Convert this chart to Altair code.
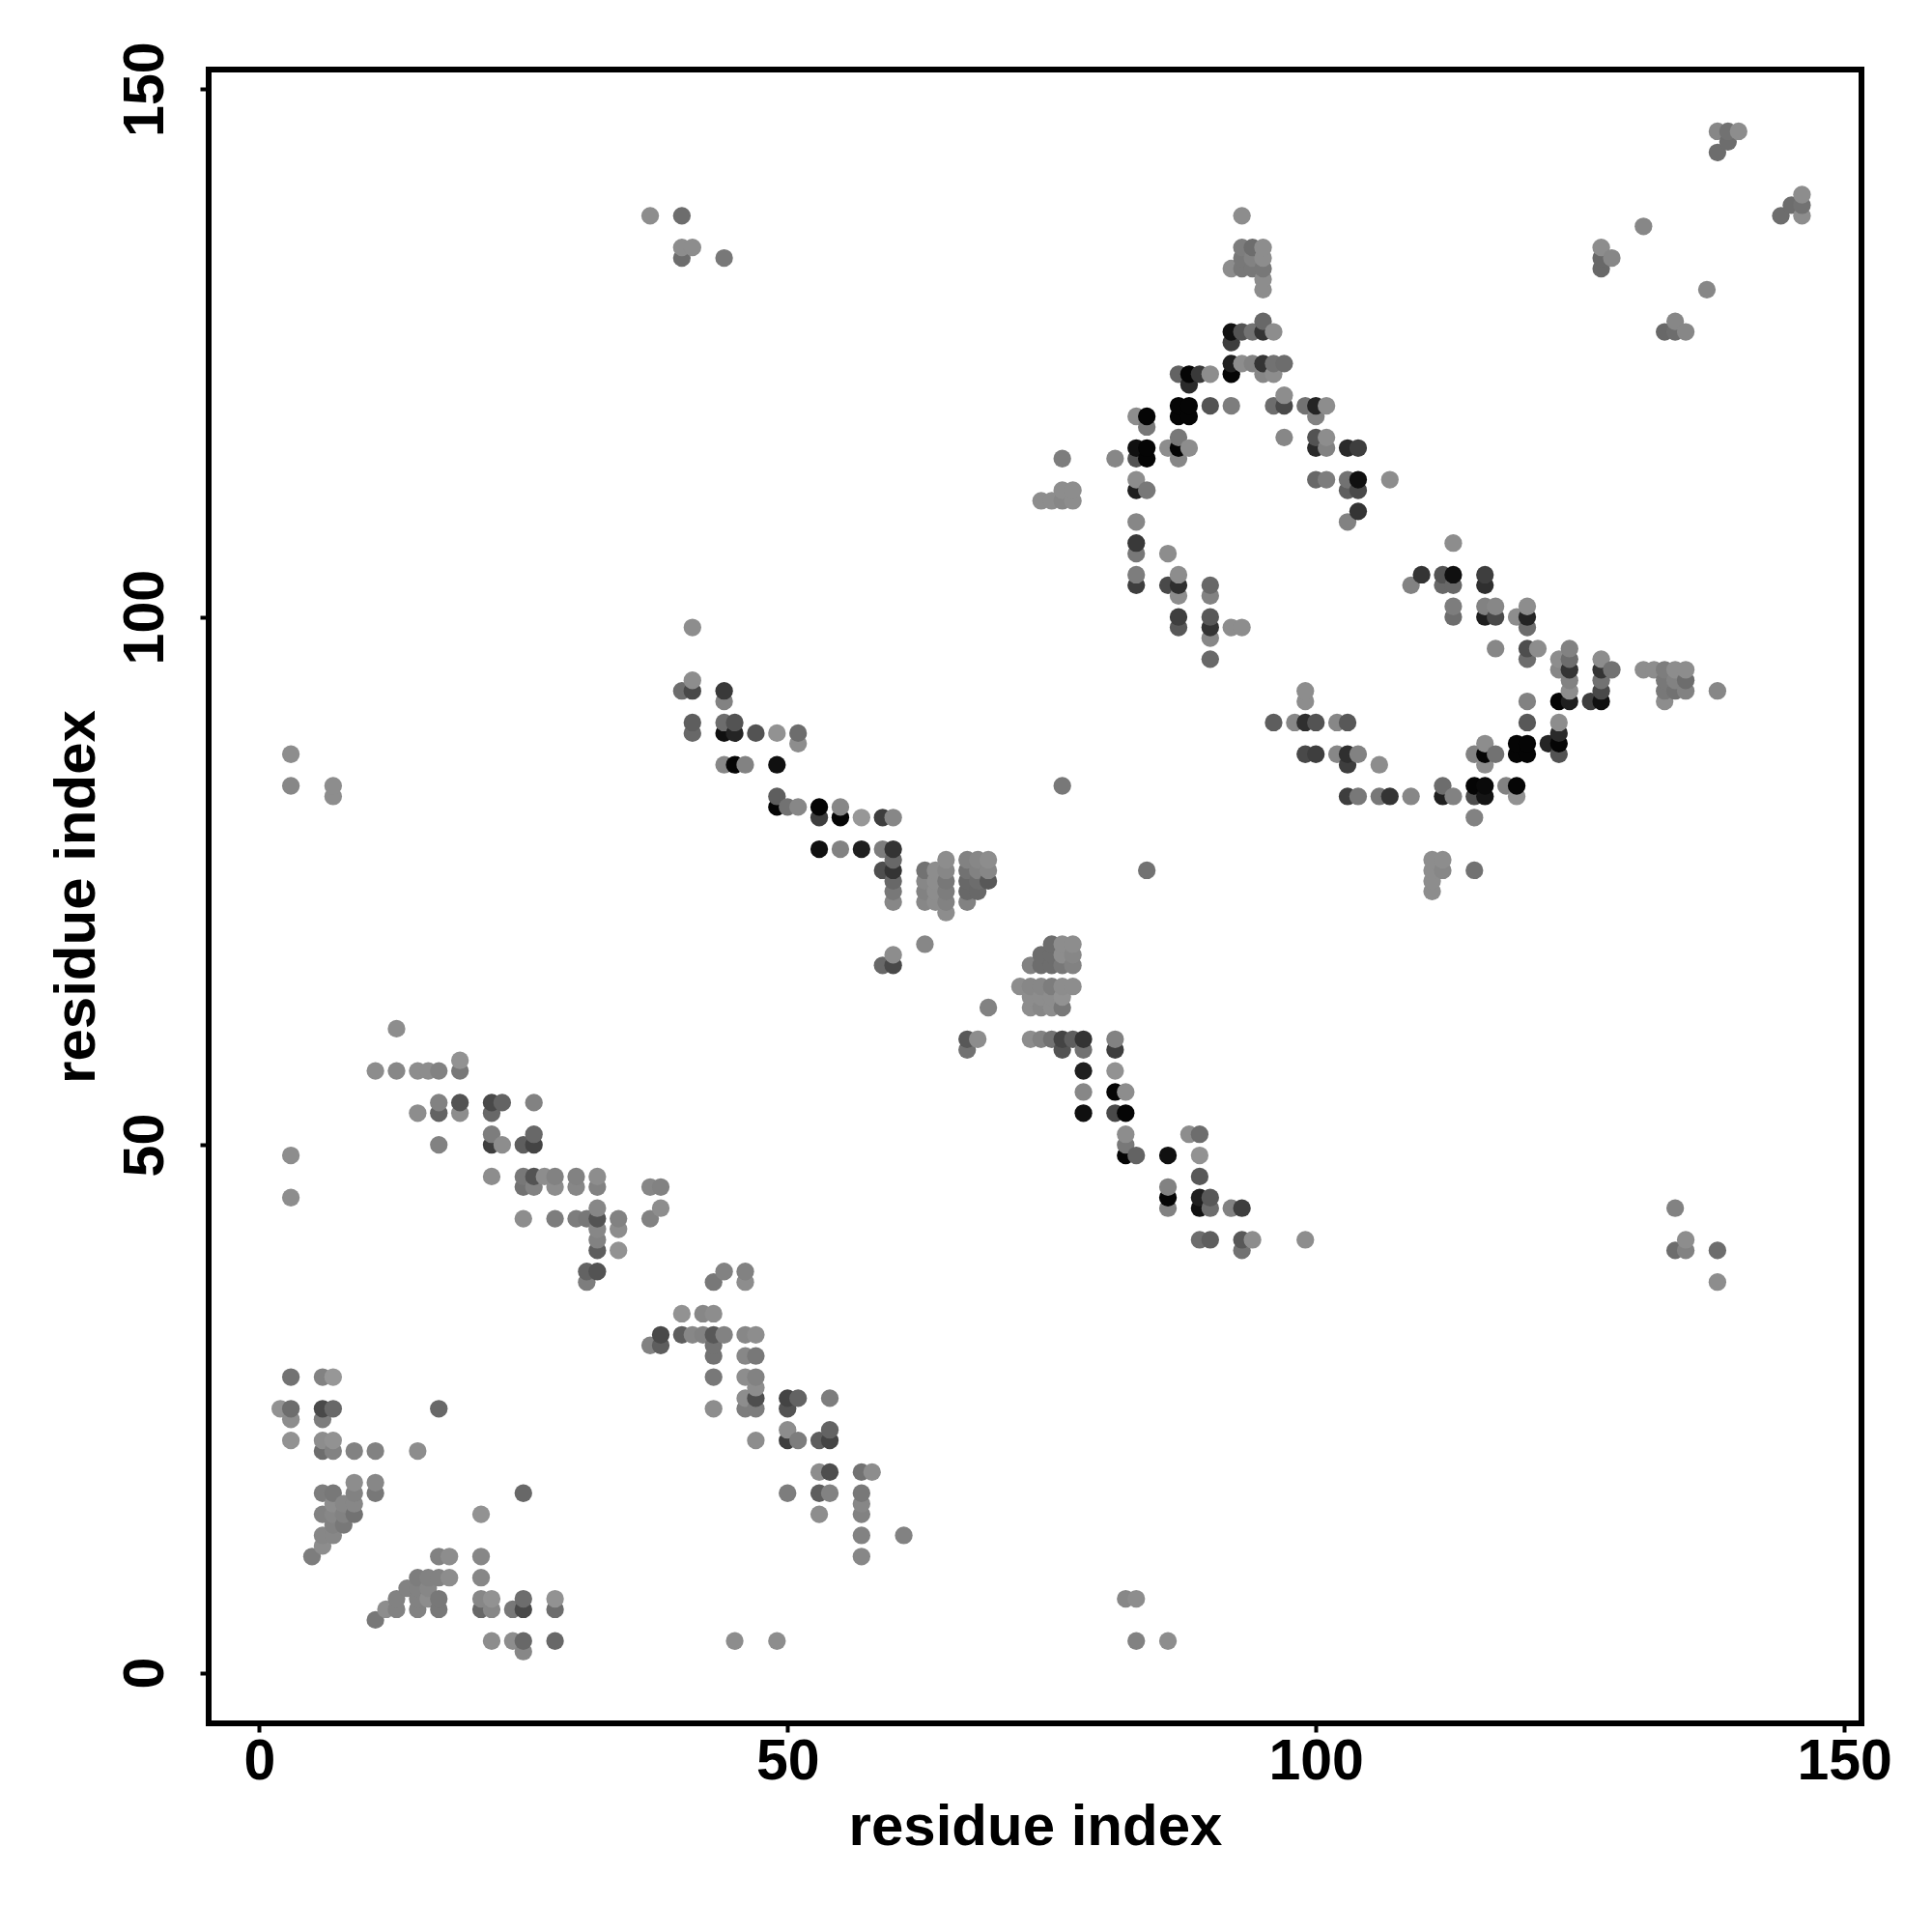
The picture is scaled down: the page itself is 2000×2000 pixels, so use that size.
import altair as alt
import pandas as pd

# (residue i, residue j, grey shade), region by region
low_left = [(3,28,110),(6,28,125),(7,28,145),(2,25,140),(3,25,105),(6,25,70),(7,25,100),(17,25,100),
 (3,24,135),(6,24,120),(3,22,140),(6,22,135),(7,22,140),(6,21,105),(7,21,125),(9,21,125),(11,21,125),(15,21,135),
 (9,18,135),(11,18,130),(6,17,120),(7,17,115),(9,17,125),(11,17,115),(25,17,100),(7,16,135),(8,16,130),(9,16,130),
 (6,15,125),(7,15,130),(8,15,125),(9,15,110),(21,15,140),(7,14,125),(8,14,115),(6,13,130),(7,13,130),(6,12,135),(5,11,120),
 (17,11,125),(18,11,135),(21,11,130),(15,9,120),(16,9,125),(17,9,125),(18,9,135),(21,9,130),(14,8,125),(15,8,125),(16,8,130),
 (13,7,125),(15,7,125),(16,7,135),(17,7,115),(21,7,130),(22,7,140),(25,7,105),(28,7,140),
 (12,6,135),(13,6,125),(15,6,125),(17,6,115),(21,6,100),(22,6,130),(24,6,115),(25,6,70),(28,6,105),(11,5,115),
 (22,3,135),(24,3,135),(25,3,100),(28,3,100),(25,2,130),(45,3,135),(49,3,135),(83,3,125),(86,3,135),(82,7,130),(83,7,135)]

upper_band = [(13,61,135),(11,57,135),(13,57,130),(15,57,135),(16,57,135),(17,57,125),(19,57,115),(19,58,140),
 (17,54,125),(19,54,80),(22,54,70),(23,54,95),(26,54,125),(15,53,135),(17,53,95),(19,53,135),(22,53,100),
 (22,51,120),(26,51,100),(17,50,125),(22,50,60),(23,50,135),(25,50,90),(26,50,65),
 (22,47,135),(25,47,115),(26,47,80),(27,47,135),(28,47,125),(30,47,125),(32,47,135),
 (25,46,110),(26,46,125),(28,46,135),(30,46,130),(32,46,125),(37,46,130),(38,46,125),
 (25,43,135),(28,43,120),(30,43,120),(31,43,115),(32,43,80),(34,43,125),(37,43,125),(38,44,135),(32,44,130),
 (32,42,130),(34,42,135),(32,41,125),(32,40,90),(34,40,140),(31,38,95),(32,38,80),(31,37,120),
 (3,87,135),(3,84,130),(7,84,135),(7,83,135),(3,49,135),(3,45,135)]

lower_band = [(44,38,125),(43,37,115),(46,38,125),(46,37,135),(40,34,140),(42,34,130),(43,34,135),
 (38,32,70),(40,32,90),(41,32,130),(42,32,125),(43,32,85),(44,32,125),(46,32,130),(47,32,135),
 (37,31,125),(38,31,90),(43,31,110),(43,30,110),(46,30,130),(47,30,115),(43,28,115),(46,28,135),(47,28,125),
 (47,27,135),(46,26,135),(47,26,75),(43,25,135),(46,25,120),(47,25,120),(47,22,135),
 (50,26,65),(51,26,95),(50,25,80),(54,26,120),(50,23,135),(50,22,60),(51,22,120),(53,22,90),(54,23,95),(54,22,65),
 (53,19,135),(54,19,75),(57,19,110),(58,19,135),(50,17,120),(53,17,90),(54,17,125),(57,17,115),(57,16,130),(57,15,125),(53,15,135),
 (57,13,125),(61,13,125),(57,11,130)]

mid_band = [(41,99,135),(41,94,135),(40,93,105),(41,93,70),(44,93,55),(44,92,125),(41,90,90),(41,89,100),(44,90,105),(45,90,80),
 (44,89,15),(45,89,35),(47,89,80),(49,89,140),(51,89,105),(51,88,135),(44,86,130),(45,86,5),(46,86,125),(49,86,15),
 (49,83,90),(49,82,5),(50,82,110),(51,82,130),(53,82,5),(53,81,60),(55,82,130),(55,81,5),(57,81,145),(59,81,60),(60,81,130),
 (53,78,15),(55,78,125),(57,78,30),(59,78,120),(60,78,50),(60,77,100),(59,76,75),(60,76,50),(60,75,100),(60,74,115),(60,73,130),
 (63,76,110),(63,75,130),(63,74,125),(63,73,130),(64,76,135),(64,75,135),(64,74,135),(64,73,135),
 (65,77,135),(65,76,130),(65,75,115),(65,74,120),(65,73,125),(65,72,135),
 (67,77,125),(67,76,110),(67,75,100),(67,74,100),(67,73,125),(68,77,130),(68,76,125),(68,75,105),(68,74,100),
 (69,77,135),(69,76,130),(69,75,85),(63,69,130),(60,68,135),(59,67,100),(60,67,70),(69,63,125),(76,84,115),(84,76,110)]

descent = [(75,69,105),(76,69,135),(77,69,135),(74,68,105),(75,68,105),(76,68,135),(77,68,130),
 (73,67,125),(74,67,105),(75,67,105),(76,67,115),(77,67,125),(72,65,135),(73,65,130),(74,65,130),(75,65,120),(76,65,135),(77,65,135),
 (73,64,135),(74,64,135),(75,64,135),(76,64,140),(73,63,135),(74,63,130),(75,63,135),(76,63,115),
 (67,60,85),(68,60,135),(73,60,135),(74,60,125),(75,60,110),(76,60,65),(77,60,90),(78,60,50),(81,60,125),
 (67,59,110),(76,59,80),(78,59,110),(81,59,60),(78,57,30),(81,57,140),(78,55,130),(81,55,5),(82,55,135),
 (78,53,15),(81,53,70),(82,53,5),(82,51,135),(88,51,135),(89,51,105),(82,50,115),(82,49,5),(83,49,95),(86,49,15),(89,49,140),
 (89,47,85),(86,46,125),(86,45,5),(89,45,30),(90,45,85),(86,44,125),(89,44,15),(90,44,105),(92,44,125),(93,44,60),
 (89,41,105),(90,41,90),(93,41,85),(94,41,135),(93,40,110),(99,41,135),
 (134,44,125),(134,40,105),(135,40,125),(135,41,135),(138,40,105),(138,37,135)]

ring_left = [(97,117,130),(100,117,80),(101,117,135),(87,117,115),(84,118,115),
 (83,116,15),(84,116,5),(86,116,135),(87,116,5),(88,116,135),(100,116,40),(101,116,125),(103,116,40),(104,116,60),
 (76,115,120),(81,115,130),(83,115,80),(84,115,5),(87,115,130),(83,113,135),(100,113,100),(101,113,120),(103,113,110),(104,113,15),(107,113,135),
 (76,112,135),(77,112,135),(83,112,30),(84,112,115),(103,112,90),(104,112,70),(74,111,135),(75,111,135),(76,111,130),(77,111,135),
 (104,110,50),(83,109,130),(103,109,125),(83,107,55),(83,106,115),(86,106,135),(83,104,120),(87,104,135),
 (83,103,60),(86,103,70),(87,103,45),(90,103,100),(87,102,135),(90,102,125),(87,100,60),(90,100,85),
 (87,99,85),(90,99,50),(92,99,135),(93,99,135),(90,98,130),(90,96,100)]

ring_top = [(93,138,135),(93,135,120),(94,135,105),(95,135,135),(93,134,115),(94,134,125),(95,134,135),
 (92,133,135),(93,133,115),(94,133,115),(95,133,115),(95,132,135),(95,131,135),(95,128,100),
 (92,127,15),(93,127,80),(94,127,110),(95,127,50),(96,127,135),(92,126,60),
 (92,124,30),(93,124,135),(94,124,125),(95,124,50),(96,124,110),(97,124,105),(92,123,5),(95,123,130),(96,123,135),
 (87,123,95),(88,123,5),(89,123,55),(90,123,135),(88,122,40),(97,121,135),
 (87,120,5),(88,120,5),(90,120,80),(92,120,120),(96,120,105),(97,120,70),(99,120,110),(100,120,35),(101,120,135),
 (87,119,5),(88,119,5),(83,119,135),(84,119,5),(100,119,125)]

ring_bottom = [(99,93,135),(99,92,135),(96,90,90),(98,90,130),(99,90,45),(100,90,80),(102,90,130),(103,90,85),
 (99,87,70),(100,87,60),(102,87,130),(103,87,45),(104,87,125),(103,86,60),(106,86,135),
 (103,83,60),(104,83,115),(106,83,115),(107,83,50),(109,83,130),(112,84,105),(112,83,30),(113,83,125),
 (115,84,5),(116,84,10),(115,83,75),(116,83,20),(118,84,125),(119,84,5),(119,83,140),(115,81,125),
 (116,88,135),(115,87,125),(116,87,5),(117,87,110),(116,86,135),(119,88,5),(120,88,5),(119,87,5),(120,87,5),
 (122,88,35),(123,88,5),(123,89,40),(123,90,135),(123,87,80),(120,90,85),(120,92,125),
 (111,77,135),(112,77,135),(111,76,135),(112,76,130),(111,75,135),(111,74,135),(115,76,110)]

ring_right = [(113,107,135),(110,104,50),(112,104,80),(113,104,15),(116,104,60),(109,103,125),(112,103,100),(113,103,100),(116,103,45),
 (113,101,120),(116,101,125),(117,101,130),(120,101,135),(113,100,105),(116,100,30),(117,100,70),(119,100,135),(120,100,35),(120,99,105),
 (117,97,130),(120,97,75),(121,97,135),(124,97,125),(120,96,105),(123,96,135),(124,96,105),(127,96,135),
 (123,95,130),(124,95,50),(127,95,50),(128,95,110),(131,95,135),(132,95,135),(133,95,120),(134,95,135),(135,95,135),
 (124,94,125),(127,94,110),(133,94,115),(134,94,125),(135,94,105),(124,93,135),(127,93,70),(133,93,115),(134,93,110),(135,93,125),(138,93,130),
 (123,92,5),(124,92,30),(126,92,60),(127,92,15),(133,92,135)]

corners = [(138,146,130),(139,146,110),(140,146,135),(139,145,105),(138,144,105),(146,140,135),(145,139,105),(146,139,110),(144,138,105),(146,138,135),
 (131,137,130),(127,135,135),(127,134,100),(128,134,130),(127,133,100),(137,131,130),(134,128,130),(133,127,100),(134,127,105),(135,127,130),
 (37,138,135),(40,138,105),(40,135,135),(40,134,105),(41,135,135),(44,134,115)]

tick_values = [0, 50, 100, 150]
axis_title = "residue index"

rows = low_left + upper_band + lower_band + mid_band + descent + ring_left + ring_top + ring_bottom + ring_right + corners
df = pd.DataFrame(rows, columns=["i", "j", "shade"]).drop_duplicates(["i", "j"], keep="last").sort_values(["i", "j"])

FONT = "Liberation Sans"

x_axis = alt.Axis(values=tick_values, title=axis_title, grid=False, domain=False, format="d",
                  labelFont=FONT, labelFontWeight="bold", labelFontSize=59, labelColor="black", labelPadding=1,
                  labelFlush=False, labelOverlap=False,
                  tickColor="black", tickSize=9, tickWidth=4,
                  titleFont=FONT, titleFontWeight="bold", titleFontSize=60, titleColor="black", titlePadding=9)
y_axis = alt.Axis(values=tick_values, title=axis_title, grid=False, domain=False, format="d",
                  labelFont=FONT, labelFontWeight="bold", labelFontSize=59, labelColor="black", labelPadding=27,
                  labelAngle=270, labelFlush=False, labelOverlap=False,
                  tickColor="black", tickSize=9, tickWidth=4,
                  titleFont=FONT, titleFontWeight="bold", titleFontSize=60, titleColor="black", titlePadding=11)

chart = (
    alt.Chart(df)
    .mark_circle(size=335, opacity=1)
    .encode(
        x=alt.X("i:Q", scale=alt.Scale(domain=[-4.78, 151.63], nice=False, zero=False), axis=x_axis),
        y=alt.Y("j:Q", scale=alt.Scale(domain=[-4.8, 151.85], nice=False, zero=False), axis=y_axis),
        color=alt.Color("shade:Q", scale=alt.Scale(domain=[0, 245], range=["#000000", "#ffffff"], interpolate="rgb"), legend=None),
    )
    .properties(width=1711, height=1712, autosize="none",
                padding={"left": 208, "top": 64, "right": 64, "bottom": 209}, background="white")
    .configure_view(stroke="black", strokeWidth=6)
)

chart.save("out.html", embed_options={"renderer": "svg", "actions": False})
